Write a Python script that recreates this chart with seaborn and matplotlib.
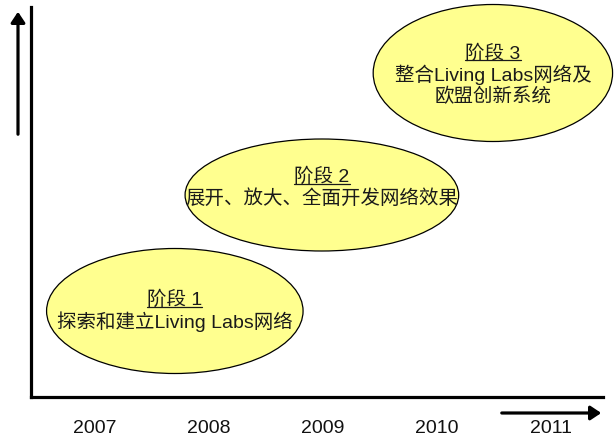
import matplotlib
matplotlib.use('Agg')
import matplotlib.pyplot as plt
from matplotlib.patches import Ellipse, FancyArrowPatch
import seaborn as sns

# x axis: years, ellipses placed in year units; y in "level" units (0 at the bottom line)
years = [2007, 2008, 2009, 2010, 2011]

stage_titles = ['阶段 1', '阶段 2', '阶段 3']
stage_lines = [
    ['探索和建立Living Labs网络'],
    ['展开、放大、全面开发网络效果'],
    ['整合Living Labs网络及', '欧盟创新系统'],
]
stage_center = [2007.70, 2008.99, 2010.49]   # year at ellipse centre
stage_span = [2.25, 2.40, 2.10]              # ellipse width in years
stage_level = [86, 202, 324]                 # ellipse centre height
stage_height = [125, 112, 137]

sns.set_theme(style='white')
plt.rcParams['font.family'] = ['Liberation Sans', 'Noto Sans CJK SC', 'DejaVu Sans']

fig = plt.figure(figsize=(6.14, 4.39), dpi=100)
ax = fig.add_axes([30.5 / 614, 41 / 439, 572.5 / 614, 390 / 439])
ax.set_xlim(2006.434, 2011.456)
ax.set_ylim(0, 390)

for side in ['top', 'right']:
    ax.spines[side].set_visible(False)
for side in ['left', 'bottom']:
    ax.spines[side].set_linewidth(2.3)
    ax.spines[side].set_color('black')

ax.set_yticks([])
ax.set_xticks(years)
ax.set_xticklabels([str(y) for y in years], fontsize=14, color='#111111')
ax.tick_params(axis='x', length=0, pad=16)

fill = '#FFFF8F'
title_offset = [12, 19, 20.5]   # title height above ellipse centre
line_gap = 21.5
title_objs = []
for i in range(len(stage_titles)):
    ell = Ellipse((stage_center[i], stage_level[i]), stage_span[i], stage_height[i],
                  facecolor=fill, edgecolor='black', linewidth=0.9, clip_on=False, zorder=2)
    ax.add_patch(ell)

    top_y = stage_level[i] + title_offset[i]
    t = ax.text(stage_center[i], top_y, stage_titles[i], ha='center', va='center',
                fontsize=14, color='#1a1a1a', zorder=3)
    title_objs.append(t)
    for j, line in enumerate(stage_lines[i]):
        ax.text(stage_center[i], top_y - line_gap * (j + 1), line, ha='center', va='center',
                fontsize=14, color='#1a1a1a', zorder=3)

# underline the stage titles
fig.canvas.draw()
inv = ax.transData.inverted()
for t in title_objs:
    bb = t.get_window_extent()
    (x0, y0), (x1, _) = inv.transform([(bb.x0, bb.y0), (bb.x1, bb.y1)])
    ax.plot([x0, x1], [y0 + 1.5, y0 + 1.5], color='#1a1a1a', linewidth=0.9, zorder=3)

# the free-standing arrows outside the frame
for start, end in [((18 / 614, 1 - 138 / 439), (18 / 614, 1 - 10 / 439)),
                   ((499 / 614, 1 - 414 / 439), (604 / 614, 1 - 414 / 439))]:
    fig.patches.append(FancyArrowPatch(
        start, end, transform=fig.transFigure,
        arrowstyle='-|>,head_length=0.45,head_width=0.3', mutation_scale=14,
        color='black', linewidth=2.3))

fig.savefig('out.png', dpi=100)
